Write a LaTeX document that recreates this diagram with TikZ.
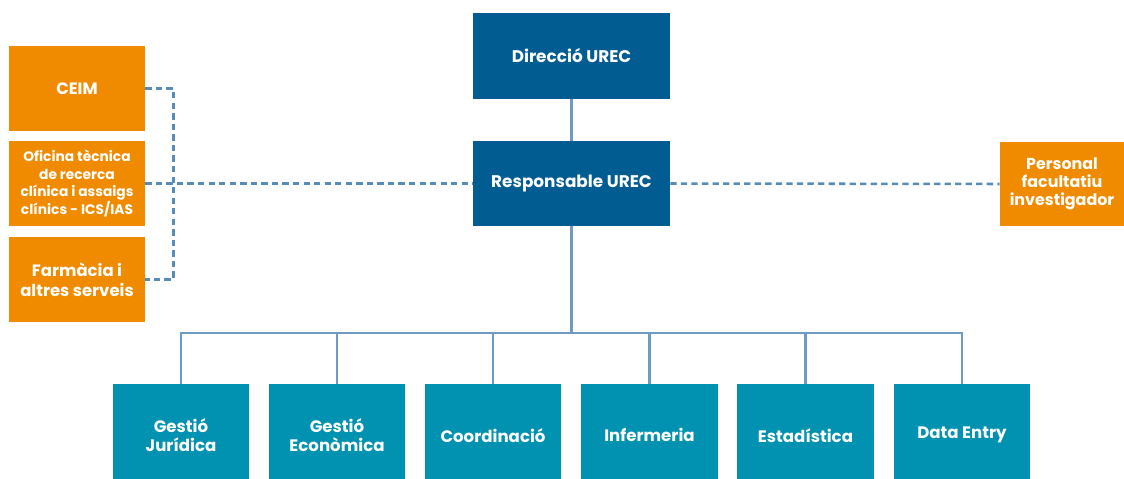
\documentclass[tikz,border=0pt]{standalone}
\usepackage{fontspec}
\setmainfont{Poppins}
\usepackage{tikz}
\usetikzlibrary{positioning}
\definecolor{urecblue}{RGB}{0,92,145}
\definecolor{urecorange}{RGB}{240,139,0}
\definecolor{urecteal}{RGB}{0,146,176}
\definecolor{treeblue}{RGB}{110,155,195}
\definecolor{dashblue}{RGB}{85,140,185}

\tikzset{
    topbox/.style={fill=urecblue, text=white, font=\bfseries\fontsize{12}{14}\selectfont,
        minimum width=4.925cm, minimum height=2.125cm, align=center, inner sep=0pt},
    sidebox/.style={fill=urecorange, text=white, font=\bfseries\fontsize{11.7}{14}\selectfont,
        minimum width=3.4cm, minimum height=2.125cm, align=center, inner sep=0pt},
    unitbox/.style={fill=urecteal, text=white, font=\bfseries\fontsize{11.8}{13.7}\selectfont,
        minimum width=3.4cm, minimum height=2.55cm, align=center, inner sep=0pt, anchor=north},
    treeline/.style={draw=treeblue, line width=1.8pt},
    dashline/.style={draw=dashblue, line width=1.8pt, dash pattern=on 4.5pt off 3pt}
}

\begin{document}
\begin{tikzpicture}[x=0.025cm, y=-0.025cm]
    \useasboundingbox (0,0) rectangle (1124,479);

    % direction
    \node[topbox] (dir) at (571.5,56) {Direcció UREC};
    \node[topbox] (resp) at (571.5,183.5) {Responsable UREC};

    % side units
    \node[sidebox] (ceim) at (77,88.5) {CEIM};
    \node[sidebox, font=\bfseries\fontsize{9.8}{12.6}\selectfont] (ofic) at (77,183.5)
        {Oficina tècnica\\de recerca\\clínica i assaigs\\clínics - ICS/IAS};
    \node[sidebox] (farm) at (77,279.5) {Farmàcia i\\altres serveis};
    \node[sidebox, minimum width=3.1cm, minimum height=2.1cm,
        font=\bfseries\fontsize{11.3}{12.8}\selectfont] (pers) at (1062,184)
        {Personal\\facultatiu\\investigador};

    % units
    \node[unitbox] (jur) at (181,384) {Gestió\\Jurídica};
    \node[unitbox] (eco) at (337,384) {Gestió\\Econòmica};
    \node[unitbox] (coo) at (493,384) {Coordinació};
    \node[unitbox] (inf) at (649.5,384) {Infermeria};
    \node[unitbox] (est) at (805.5,384) {Estadística};
    \node[unitbox] (dat) at (962,384) {Data Entry};

    % connectors
    \coordinate (bus) at (571.5,333);
    \draw[treeline] (dir) -- (resp);
    \draw[treeline] (resp) -- (bus);
    \foreach \n in {jur,eco,coo,inf,est,dat} {
        \draw[treeline] (bus) -| (\n.north);
    }
    \draw[dashline] (ceim.east) -- ++(28,0) |- (farm.east);
    \draw[dashline] (ofic.east) -- (resp.west);
    \draw[dashline] (resp.east) -- (pers.west);
\end{tikzpicture}
\end{document}
